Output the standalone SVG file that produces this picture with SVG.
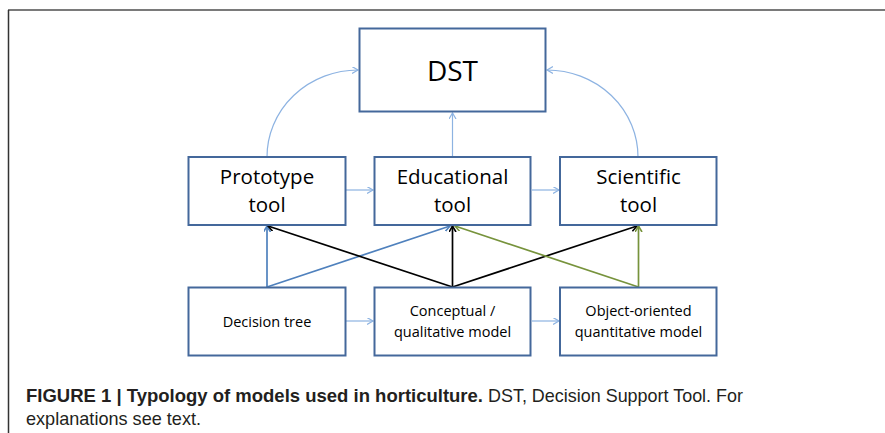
<svg xmlns="http://www.w3.org/2000/svg" width="885" height="433" viewBox="0 0 885 433">
  <style>
    .box { fill: #ffffff; stroke: #44689B; stroke-width: 2; }
    .lbl { font-family: "Open Sans", "Noto Sans", sans-serif; fill: #000000; text-anchor: middle; }
    .big { font-size: 28px; }
    .mid { font-size: 20.5px; }
    .small { font-size: 14.5px; }
    .thin { fill: none; stroke: #8DB3E2; stroke-width: 1.2; marker-end: url(#mLight); }
    .cblue { fill: none; stroke: #4F81BD; stroke-width: 1.7; marker-end: url(#mBlue); }
    .cblack { fill: none; stroke: #000000; stroke-width: 1.7; marker-end: url(#mBlack); }
    .cgreen { fill: none; stroke: #77933C; stroke-width: 1.7; marker-end: url(#mGreen); }
    .cap { font-family: "Liberation Sans", Arial, sans-serif; font-size: 19px; fill: #231F20; }
  </style>
  <defs>
    <marker id="mLight" markerUnits="userSpaceOnUse" markerWidth="10" markerHeight="10" refX="6" refY="3.5" orient="auto">
      <path d="M0,0 L6,3.5 L0,7" fill="none" stroke="#8DB3E2" stroke-width="1.2"/>
    </marker>
    <marker id="mBlue" markerUnits="userSpaceOnUse" markerWidth="10" markerHeight="10" refX="6" refY="3.5" orient="auto">
      <path d="M0,0 L6,3.5 L0,7" fill="none" stroke="#4F81BD" stroke-width="1.6"/>
    </marker>
    <marker id="mBlack" markerUnits="userSpaceOnUse" markerWidth="10" markerHeight="10" refX="6" refY="3.5" orient="auto">
      <path d="M0,0 L6,3.5 L0,7" fill="none" stroke="#000000" stroke-width="1.6"/>
    </marker>
    <marker id="mGreen" markerUnits="userSpaceOnUse" markerWidth="10" markerHeight="10" refX="6" refY="3.5" orient="auto">
      <path d="M0,0 L6,3.5 L0,7" fill="none" stroke="#77933C" stroke-width="1.6"/>
    </marker>
  </defs>

  <!-- frame -->
  <rect x="0" y="0" width="885" height="433" fill="#ffffff"/>
  <line x1="8" y1="10" x2="885" y2="10" stroke="#7A7A7A" stroke-width="2"/>
  <line x1="8.5" y1="10" x2="8.5" y2="433" stroke="#333333" stroke-width="1.5"/>

  <!-- connectors -->
  <g id="connectors">
    <path class="thin" d="M267,157 A91,87 0 0 1 358,70"/>
    <path class="thin" d="M638,157 A91,87 0 0 0 547,70"/>
    <path class="thin" d="M452.5,157 L452.5,113"/>
    <path class="thin" d="M346,190 L373,190"/>
    <path class="thin" d="M532,190 L559,190"/>
    <path class="thin" d="M346,321 L373,321"/>
    <path class="thin" d="M532,321 L559,321"/>

    <path class="cblue" d="M267,287 L267,226"/>
    <path class="cblue" d="M267,287 L450,226"/>
    <path class="cblack" d="M452.5,287 L268,226"/>
    <path class="cblack" d="M452.5,287 L452.5,226"/>
    <path class="cblack" d="M452.5,287 L637,226"/>
    <path class="cgreen" d="M638.5,287 L455,226"/>
    <path class="cgreen" d="M638.5,287 L638.5,226"/>
  </g>

  <g id="dst">
    <rect class="box" x="359.5" y="28.5" width="186" height="83"/>
    <text class="lbl big" x="452.5" y="81">DST</text>
  </g>
  <g id="prototype">
    <rect class="box" x="188.5" y="157" width="157" height="68"/>
    <text class="lbl mid" x="267" y="184">Prototype</text>
    <text class="lbl mid" x="267" y="211.5">tool</text>
  </g>
  <g id="educational">
    <rect class="box" x="374.5" y="157" width="156" height="68"/>
    <text class="lbl mid" x="452.5" y="184">Educational</text>
    <text class="lbl mid" x="452.5" y="211.5">tool</text>
  </g>
  <g id="scientific">
    <rect class="box" x="560" y="157" width="156.5" height="68"/>
    <text class="lbl mid" x="638.5" y="184">Scientific</text>
    <text class="lbl mid" x="638.5" y="211.5">tool</text>
  </g>
  <g id="decision-tree">
    <rect class="box" x="188.5" y="287.5" width="157" height="68"/>
    <text class="lbl small" x="267" y="327">Decision tree</text>
  </g>
  <g id="conceptual">
    <rect class="box" x="374.5" y="287.5" width="156" height="68"/>
    <text class="lbl small" x="452.5" y="316">Conceptual /</text>
    <text class="lbl small" x="452.5" y="336.5">qualitative model</text>
  </g>
  <g id="object-oriented">
    <rect class="box" x="560" y="287.5" width="156.5" height="68"/>
    <text class="lbl small" x="638.5" y="316">Object-oriented</text>
    <text class="lbl small" x="638.5" y="336.5">quantitative model</text>
  </g>

  <!-- caption -->
  <text class="cap" x="26" y="402" font-weight="bold" textLength="457" lengthAdjust="spacingAndGlyphs">FIGURE 1 | Typology of models used in horticulture.</text>
  <text class="cap" x="488" y="402" textLength="255" lengthAdjust="spacingAndGlyphs">DST, Decision Support Tool. For</text>
  <text class="cap" x="26" y="425" textLength="175" lengthAdjust="spacingAndGlyphs">explanations see text.</text>
</svg>
